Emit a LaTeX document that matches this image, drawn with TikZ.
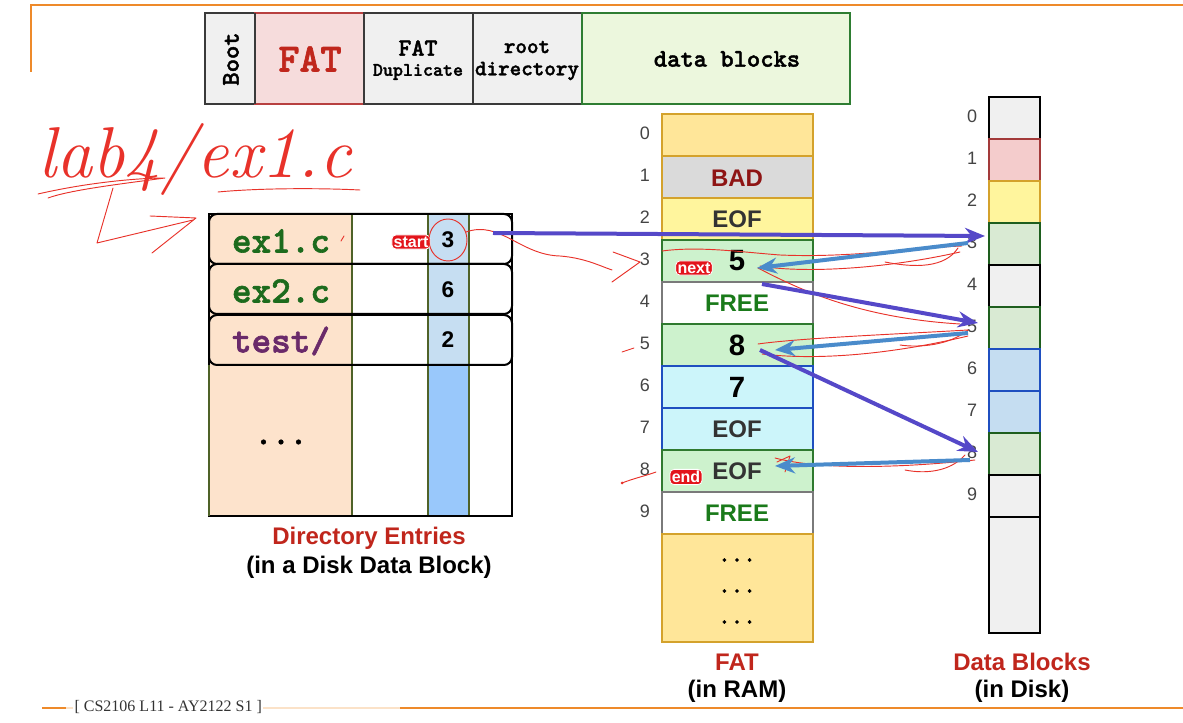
\documentclass[tikz,border=0pt]{standalone}
\usepackage{fontspec}
\newfontfamily\arialf{Liberation Sans}
\newfontfamily\timesf{Liberation Serif}
\newfontfamily\slabmono{lmmonolt10-bold.otf}[FakeBold=1.6]
\usetikzlibrary{arrows.meta}
\newcommand{\fsz}[1]{\fontsize{#1}{#1}\selectfont}
\definecolor{orn}{HTML}{EE8A2A}
\definecolor{ornlight}{HTML}{FBE2C8}
\definecolor{boxgray}{HTML}{F0F0F0}
\definecolor{boxedge}{HTML}{3A3A3A}
\definecolor{fatpink}{HTML}{F6DCDC}
\definecolor{fatred}{HTML}{C0261C}
\definecolor{fatedge}{HTML}{B84040}
\definecolor{datagreen}{HTML}{ECF7DD}
\definecolor{dataedge}{HTML}{2E7D32}
\definecolor{peach}{HTML}{FDE3CC}
\definecolor{olivel}{HTML}{4F6228}
\definecolor{ltblue}{HTML}{C6DEF2}
\definecolor{midblue}{HTML}{99C8FB}
\definecolor{namegreen}{HTML}{1D6B1D}
\definecolor{namepurple}{HTML}{6A2A6A}
\definecolor{gold}{HTML}{FFE699}
\definecolor{goldedge}{HTML}{D4A22C}
\definecolor{badgray}{HTML}{DADADA}
\definecolor{yel}{HTML}{FFF59D}
\definecolor{fgreen}{HTML}{CDF2CD}
\definecolor{fgreenedge}{HTML}{2F7A2F}
\definecolor{cyanl}{HTML}{CCF5FA}
\definecolor{blueedge}{HTML}{1F4FC0}
\definecolor{freegray}{HTML}{7A7A7A}
\definecolor{badred}{HTML}{8E1414}
\definecolor{eofgray}{HTML}{333333}
\definecolor{freegreen}{HTML}{1A7A1A}
\definecolor{labred}{HTML}{C0261C}
\definecolor{dpink}{HTML}{F4CCCC}
\definecolor{dpinkedge}{HTML}{A33A3A}
\definecolor{dgreenf}{HTML}{D9EAD3}
\definecolor{dgreenedge}{HTML}{1E5E1E}
\definecolor{dbluef}{HTML}{C5DDF1}
\definecolor{arrpurple}{HTML}{5548C8}
\definecolor{arrblue}{HTML}{4A8BCB}
\definecolor{badgered}{HTML}{E3141B}
\definecolor{inkred}{HTML}{E8322A}
\definecolor{idxgray}{HTML}{444444}
\definecolor{footgray}{HTML}{333333}
\begin{document}
\begin{tikzpicture}[x=0.75pt,y=-0.75pt,
  topbox/.style={draw=boxedge,fill=boxgray,line width=1.5pt},
  codetxt/.style={font=\slabmono\fsz{#1},inner sep=0pt},
  fattxt/.style={font=\arialf\bfseries\fsz{18},inner sep=0pt},
  fatnum/.style={font=\arialf\bfseries\fsz{22},inner sep=0pt},
  dirnum/.style={font=\arialf\bfseries\fsz{17},inner sep=0pt},
  idx/.style={font=\arialf\fsz{13.5},text=idxgray,inner sep=0pt},
  biglabel/.style={font=\arialf\bfseries\fsz{18},inner sep=0pt},
  badge/.style={fill=badgered,text=white,draw=white,line width=0.6pt,rounded corners=3pt,inner sep=1.3pt,font=\arialf\bfseries\fsz{12}},
  parrow/.style={draw=arrpurple,line width=3pt,-{Stealth[length=15pt,width=12pt]}},
  barrow/.style={draw=arrblue,line width=3pt,-{Stealth[length=15pt,width=12pt]}},
  scrib/.style={draw=inkred,line width=0.7pt,line cap=round,line join=round}]
\useasboundingbox (0,0) rectangle (1183,723);

% frame lines
\draw[orn,line width=1.6pt] (31,72) -- (31,5) -- (1183,5);
\draw[orn,line width=1.6pt] (42,708) -- (66,708);
\draw[ornlight,line width=1.6pt] (66,708) -- (400,708);
\draw[orn,line width=1.6pt] (400,708) -- (1183,708);
\node[anchor=west,font=\timesf\fsz{12},text=footgray,fill=white,inner sep=1pt] (foot) at (73,707) {[ CS2106 L11 - AY2122 S1 ]};

% top layout bar
\draw[topbox] (205,13) rectangle (255,104);
\draw[fill=fatpink,draw=fatedge,line width=1.5pt] (255,13) rectangle (364,104);
\draw[topbox] (364,13) rectangle (473,104);
\draw[topbox] (473,13) rectangle (582,104);
\draw[fill=datagreen,draw=dataedge,line width=1.5pt] (582,13) rectangle (850,104);
\draw[boxedge,line width=1.5pt] (255,13) -- (255,104);
\node[codetxt=19,rotate=90] (boot) at (231,59) {Boot};
\node[codetxt=30,text=fatred] (fattop) at (310,59) {FAT};
\node[codetxt=18.5] (dup1) at (418,48) {FAT};
\node[codetxt=14.3] (dup2) at (418,72) {Duplicate};
\node[codetxt=16.5] (root1) at (527,47) {root};
\node[codetxt=16.5] (root2) at (527,71) {directory};
\node[codetxt=19] (datab) at (727,59) {data blocks};

% directory entries
\fill[peach] (209,214) rectangle (352,516);
\fill[ltblue] (428,214) rectangle (469,365);
\fill[midblue] (428,365) rectangle (469,516);
\draw[olivel,line width=1.5pt] (352,214) -- (352,516) (428,214) -- (428,516) (469,214) -- (469,516);
\draw[black,line width=1.5pt] (209,214) rectangle (512,516);
\draw[olivel,line width=1.5pt] (209,365) -- (209,516);
\foreach \t in {214,264,315}
  \draw[black,line width=1.5pt,rounded corners=6pt] (209,\t) rectangle (512,{\t+50});
\node[codetxt=28,text=namegreen] (e1) at (281,241) {ex1.c};
\node[codetxt=28,text=namegreen] (e2) at (281,291) {ex2.c};
\node[codetxt=28,text=namepurple] (e3) at (281,341) {test/};
\node[dirnum] (n1) at (448,240) {3};
\node[dirnum] (n2) at (448,290) {6};
\node[dirnum] (n3) at (448,340) {2};
\node[codetxt=25] (edots) at (281,442) {...};
\node[badge] (startb) at (411,242) {start};
\node[biglabel,text=labred] (dl1) at (369,538) {Directory Entries};
\node[biglabel] (dl2) at (369,567) {(in a Disk Data Block)};

% FAT in RAM
\foreach \i/\fc/\ec in {0/gold/goldedge,1/badgray/goldedge,2/yel/goldedge,3/fgreen/fgreenedge,4/white/freegray,5/fgreen/fgreenedge,6/cyanl/blueedge,7/cyanl/blueedge,8/fgreen/fgreenedge,9/white/freegray}
  \draw[fill=\fc,draw=\ec,line width=1.5pt] (662,{114+42*\i}) rectangle (813,{156+42*\i});
\draw[fill=gold,draw=goldedge,line width=1.5pt] (662,534) rectangle (813,642);
\foreach \i in {0,...,9}
  \node[idx] (fi\i) at (645,{133+42*\i}) {\i};
\node[fattxt,text=badred] (f1) at (737,178) {BAD};
\node[fattxt,text=eofgray] (f2) at (737,219) {EOF};
\node[fatnum] (f3) at (737,261) {5};
\node[fattxt,text=freegreen] (f4) at (737,303) {FREE};
\node[fatnum] (f5) at (737,345) {8};
\node[fatnum] (f6) at (737,387) {7};
\node[fattxt,text=eofgray] (f7) at (737,429) {EOF};
\node[fattxt,text=eofgray] (f8) at (737,471) {EOF};
\node[fattxt,text=freegreen] (f9) at (737,513) {FREE};
\node[codetxt=18] (fd1) at (737,560) {...};
\node[codetxt=18] (fd2) at (737,591) {...};
\node[codetxt=18] (fd3) at (737,622) {...};
\node[badge] (nextb) at (694,268) {next};
\node[badge] (endb) at (686,477) {end};
\node[biglabel,text=labred] (fl1) at (737,662) {FAT};
\node[biglabel] (fl2) at (737,691) {(in RAM)};

% data blocks on disk
\foreach \i/\fc/\ec in {0/boxgray/black,1/dpink/dpinkedge,2/yel/goldedge,3/dgreenf/dgreenedge,4/boxgray/black,5/dgreenf/dgreenedge,6/dbluef/blueedge,7/dbluef/blueedge,8/dgreenf/dgreenedge,9/boxgray/black}
  \draw[fill=\fc,draw=\ec,line width=1.5pt] (989,{97+42*\i}) rectangle (1040,{139+42*\i});
\draw[fill=boxgray,draw=black,line width=1.5pt] (989,517) rectangle (1040,633);
\foreach \i in {0,...,9}
  \node[idx] (di\i) at (972,{116+42*\i}) {\i};
\node[biglabel,text=labred] (bl1) at (1022,662) {Data Blocks};
\node[biglabel] (bl2) at (1022,691) {(in Disk)};

% handwritten annotations
\node[text=inkred,font=\rmfamily\itshape\fsz{54},inner sep=0pt] (hand) at (195,160) {lab4/ex1.c};
\draw[scrib] (38,194) .. controls (90,182) and (140,178) .. (165,178) .. controls (120,184) and (70,190) .. (48,198);
\draw[scrib] (218,192) .. controls (260,188) and (320,188) .. (360,190);
\coordinate (hk1) at (113,188);
\coordinate (hk2) at (97,243);
\coordinate (hk3) at (193,220);
\draw[scrib] (hk1) -- (hk2) -- (hk3);
\draw[scrib] (150,216) -- (196,218) -- (152,253);
\draw[scrib] (n1) ellipse [x radius=19,y radius=21];
\coordinate (c1) at (466,232);
\coordinate (c2) at (612,270);
\draw[scrib] (c1) .. controls (500,220) and (520,255) .. (560,256) .. controls (585,258) and (600,266) .. (c2);
\draw[scrib] (613,252) -- (640,262) -- (612,282);
\draw[scrib] (341,241) -- (344,236);
\draw[scrib] (662,251) .. controls (700,246) and (740,252) .. (780,255) .. controls (850,258) and (910,248) .. (962,246);
\draw[scrib] (760,266) .. controls (800,273) and (880,270) .. (960,252);
\draw[scrib] (758,268) .. controls (800,290) and (860,318) .. (960,324);
\draw[scrib] (758,344) .. controls (800,338) and (900,334) .. (968,330);
\draw[scrib] (762,354) .. controls (830,362) and (910,350) .. (968,336);
\draw[scrib] (775,458) .. controls (820,470) and (900,468) .. (975,460);
\draw[scrib] (777,462) -- (790,456) -- (785,472);
\draw[scrib] (622,352) -- (634,348);
\draw[scrib] (622,483) .. controls (635,478) and (645,476) .. (656,472);
\fill[inkred] (622,483) circle (1.5);
\draw[scrib] (958,248) .. controls (945,268) and (915,268) .. (885,262);
\draw[scrib] (968,330) .. controls (950,345) and (920,348) .. (900,345);
\draw[scrib] (965,455) .. controls (950,472) and (925,474) .. (905,470);

% pointer arrows
\coordinate (pA) at (493,233);
\coordinate (pB) at (985,236);
\coordinate (bA) at (968,243);
\coordinate (bB) at (757,268);
\coordinate (pC) at (762,284);
\coordinate (pD) at (978,323);
\coordinate (bC) at (968,333);
\coordinate (bD) at (775,350);
\coordinate (pE) at (760,350);
\coordinate (pF) at (978,452);
\coordinate (bE) at (970,460);
\coordinate (bF) at (775,466);
\draw[parrow] (pA) -- (pB);
\draw[barrow] (bA) -- (bB);
\draw[parrow] (pC) -- (pD);
\draw[barrow] (bC) -- (bD);
\draw[parrow] (pE) -- (pF);
\draw[barrow] (bE) -- (bF);
\end{tikzpicture}
\end{document}
